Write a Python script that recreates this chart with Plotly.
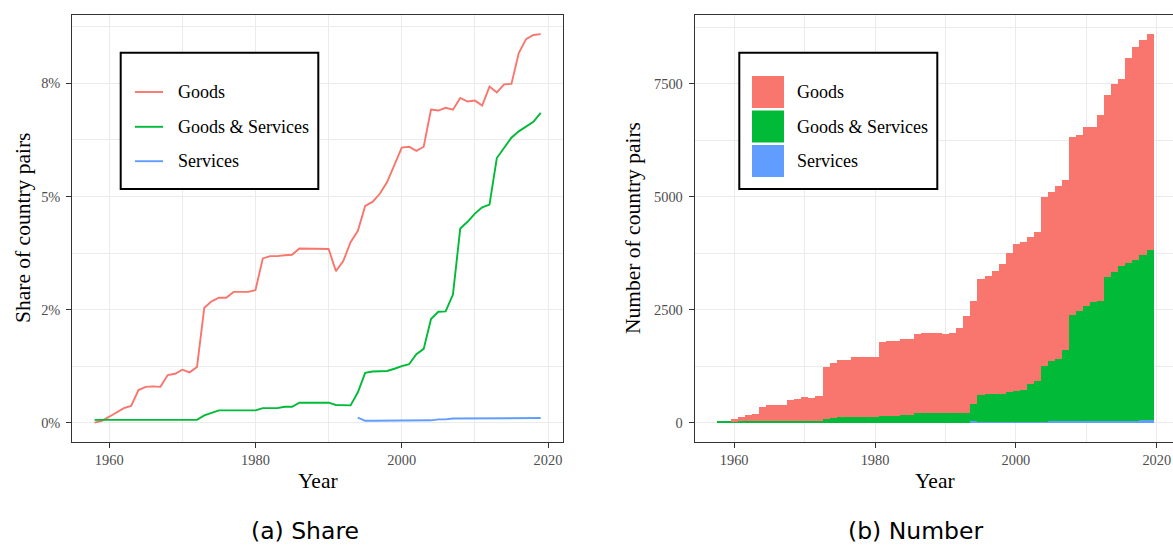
import plotly.graph_objects as go

# ---- data -------------------------------------------------------------
years = list(range(1958, 2020))

# share of country pairs (percent)
share_goods = [
    0.00, 0.04, 0.13, 0.23, 0.32, 0.37, 0.72, 0.79, 0.80, 0.79,
    1.05, 1.08, 1.17, 1.11, 1.23, 2.54, 2.68, 2.76, 2.76, 2.89,
    2.89, 2.89, 2.93, 3.63, 3.68, 3.68, 3.70, 3.71, 3.85, 3.85,
    3.85, 3.85, 3.84, 3.35, 3.57, 3.99, 4.24, 4.79, 4.88, 5.06,
    5.32, 5.70, 6.08, 6.10, 6.01, 6.10, 6.92, 6.90, 6.96, 6.92,
    7.18, 7.10, 7.12, 7.01, 7.43, 7.30, 7.48, 7.49, 8.17, 8.48,
    8.57, 8.59,
]
share_goods_services = [
    0.06, 0.06, 0.06, 0.06, 0.06, 0.06, 0.06, 0.06, 0.06, 0.06,
    0.06, 0.06, 0.06, 0.06, 0.06, 0.16, 0.22, 0.27, 0.27, 0.27,
    0.27, 0.27, 0.27, 0.32, 0.32, 0.32, 0.35, 0.35, 0.44, 0.44,
    0.44, 0.44, 0.44, 0.39, 0.38, 0.38, 0.67, 1.10, 1.13, 1.14,
    1.14, 1.19, 1.25, 1.29, 1.51, 1.63, 2.29, 2.45, 2.46, 2.83,
    4.29, 4.44, 4.62, 4.76, 4.82, 5.85, 6.07, 6.30, 6.44, 6.55,
    6.65, 6.85,
]
share_services = [None] * 36 + [
    0.11, 0.04, 0.04, 0.04, 0.04, 0.04, 0.04, 0.04, 0.04, 0.04,
    0.05, 0.07, 0.07, 0.09, 0.09, 0.09, 0.09, 0.09, 0.09, 0.09,
    0.09, 0.10, 0.10, 0.10, 0.10, 0.10,
]

# number of country pairs
n_goods = [
    0, 0, 41, 90, 136, 158, 310, 355, 355, 355,
    460, 482, 526, 504, 548, 1147, 1206, 1254, 1254, 1321,
    1321, 1321, 1319, 1629, 1651, 1651, 1677, 1677, 1750, 1765,
    1765, 1765, 1743, 1765, 1897, 2162, 2294, 2581, 2625, 2736,
    2890, 3089, 3265, 3287, 3265, 3316, 3750, 3750, 3839, 3772,
    3927, 3883, 3948, 3860, 4103, 4015, 4147, 4125, 4522, 4699,
    4742, 4765,
]
n_goods_services = [
    40, 40, 40, 40, 40, 40, 40, 40, 40, 40,
    40, 40, 40, 40, 40, 81, 110, 128, 128, 128,
    128, 128, 130, 150, 150, 150, 169, 169, 213, 213,
    213, 213, 213, 213, 213, 213, 362, 588, 610, 610,
    610, 654, 676, 698, 831, 897, 1222, 1325, 1369, 1553,
    2347, 2435, 2546, 2634, 2656, 3185, 3296, 3428, 3494, 3560,
    3668, 3775,
]
n_services = [0] * 36 + [
    50, 22, 22, 22, 22, 22, 22, 22, 22, 22,
    28, 35, 35, 50, 50, 50, 50, 50, 50, 50,
    50, 50, 50, 50, 53, 56,
]

series_names = ["Goods", "Goods & Services", "Services"]
colors = {"Goods": "#F8766D", "Goods & Services": "#00BA38", "Services": "#619CFF"}

share_ticks = [0, 2.5, 5, 7.5]
share_ticklabels = ["0%", "2%", "5%", "8%"]
count_ticks = [0, 2500, 5000, 7500]
count_ticklabels = ["0", "2500", "5000", "7500"]
year_ticks = [1960, 1980, 2000, 2020]

# ---- geometry helpers (pixel -> paper) -------------------------------
W, H = 1173, 545
def fx(px):
    return px / W
def fy(py):
    return 1 - py / H

SERIF = "Liberation Serif"
GRID = "#EBEBEB"
FRAME = "#333333"
TICKTXT = "#4D4D4D"

fig = go.Figure()

share_series = {"Goods": share_goods, "Goods & Services": share_goods_services,
                "Services": share_services}
for name in series_names:
    fig.add_trace(go.Scatter(
        x=years, y=share_series[name], mode="lines", name=name,
        line=dict(color=colors[name], width=1.9),
        xaxis="x", yaxis="y", showlegend=False, connectgaps=False,
    ))

count_series = {"Goods": n_goods, "Goods & Services": n_goods_services,
                "Services": n_services}
for name in reversed(series_names):
    fig.add_trace(go.Bar(
        x=years, y=count_series[name], name=name, width=1.0,
        marker=dict(color=colors[name], line=dict(width=0)),
        xaxis="x2", yaxis="y2", showlegend=False,
    ))

max_share = max(share_goods)
totals = [a + b + c for a, b, c in zip(n_goods, n_goods_services, n_services)]
max_total = max(totals)

common_axis = dict(
    showline=True, linecolor=FRAME, linewidth=1.1,
    ticks="outside", ticklen=5, tickcolor=FRAME, tickwidth=1.1,
    showgrid=True, gridcolor=GRID, gridwidth=1.3, zeroline=False,
    tickfont=dict(family=SERIF, size=14.4, color=TICKTXT),
    tickmode="array",
)
minor_grid = dict(showgrid=True, gridcolor=GRID, gridwidth=0.7, ticks="")

fig.update_layout(
    width=W, height=H,
    margin=dict(l=0, r=0, t=0, b=0),
    paper_bgcolor="white", plot_bgcolor="white",
    barmode="stack", bargap=0,
    xaxis=dict(domain=[fx(72.3), fx(563)], range=[1958 - 3.05, 2019 + 3.05],
               tickvals=year_ticks, mirror=True,
               minor=dict(tickvals=[1970, 1990, 2010], **minor_grid),
               anchor="y", **common_axis),
    yaxis=dict(domain=[fy(442), fy(14.7)],
               range=[-0.05 * max_share, 1.05 * max_share],
               tickvals=share_ticks, ticktext=share_ticklabels, mirror=True,
               minor=dict(tickvals=[1.25, 3.75, 6.25, 8.75], **minor_grid),
               ticklabelstandoff=3, anchor="x", **common_axis),
    xaxis2=dict(domain=[fx(694.7), 1.0], range=[1957.5 - 3.1, 2022.3],
                tickvals=year_ticks, mirror=True,
                minor=dict(tickvals=[1970, 1990, 2010], **minor_grid),
                anchor="y2", **common_axis),
    yaxis2=dict(domain=[fy(442), fy(14.7)],
                range=[-0.05 * max_total, 1.05 * max_total],
                tickvals=count_ticks, ticktext=count_ticklabels, mirror=False,
                minor=dict(tickvals=[1250, 3750, 6250, 8750], **minor_grid),
                ticklabelstandoff=3, anchor="x2", **common_axis),
)

annotations = []
shapes = []

def text(x, y, s, size, color="black", family=SERIF, xanchor="center",
         yanchor="middle", textangle=0, pad=1):
    annotations.append(dict(
        x=fx(x), y=fy(y), xref="paper", yref="paper", text=s, showarrow=False,
        xanchor=xanchor, yanchor=yanchor, textangle=textangle, borderpad=pad,
        font=dict(family=family, size=size, color=color),
    ))

# axis titles
text(317.6, 481, "Year", 21.5)
text(935, 481, "Year", 21.5)
text(23, 228, "Share of country pairs", 21.5, textangle=-90)
text(633, 228, "Number of country pairs", 21.5, textangle=-90)

# sub-captions
text(305, 546, "(a) Share", 23.5, family="DejaVu Sans", yanchor="bottom", pad=0)
text(915, 546, "(b) Number", 23.5, family="DejaVu Sans", yanchor="bottom", pad=0)

# legend boxes
for x0, x1 in [(120.7, 318.3), (739.3, 937.3)]:
    shapes.append(dict(type="rect", xref="paper", yref="paper",
                       x0=fx(x0), x1=fx(x1), y0=fy(189), y1=fy(52.7),
                       line=dict(color="black", width=2), fillcolor="white",
                       layer="above"))

item_y = [92, 126.8, 161.2]
key_top = [76, 110.5, 145]
for i, name in enumerate(series_names):
    # line key
    shapes.append(dict(type="line", xref="paper", yref="paper",
                       x0=fx(135), x1=fx(163), y0=fy(item_y[i]), y1=fy(item_y[i]),
                       line=dict(color=colors[name], width=1.9), layer="above"))
    text(175.5, item_y[i], name, 18, xanchor="left")
    # filled key
    shapes.append(dict(type="rect", xref="paper", yref="paper",
                       x0=fx(752), x1=fx(784), y0=fy(key_top[i] + 32), y1=fy(key_top[i]),
                       line=dict(width=0), fillcolor=colors[name], layer="above"))
    text(794.5, item_y[i], name, 18, xanchor="left")

fig.update_layout(annotations=annotations, shapes=shapes)

fig.write_html("out.html")
